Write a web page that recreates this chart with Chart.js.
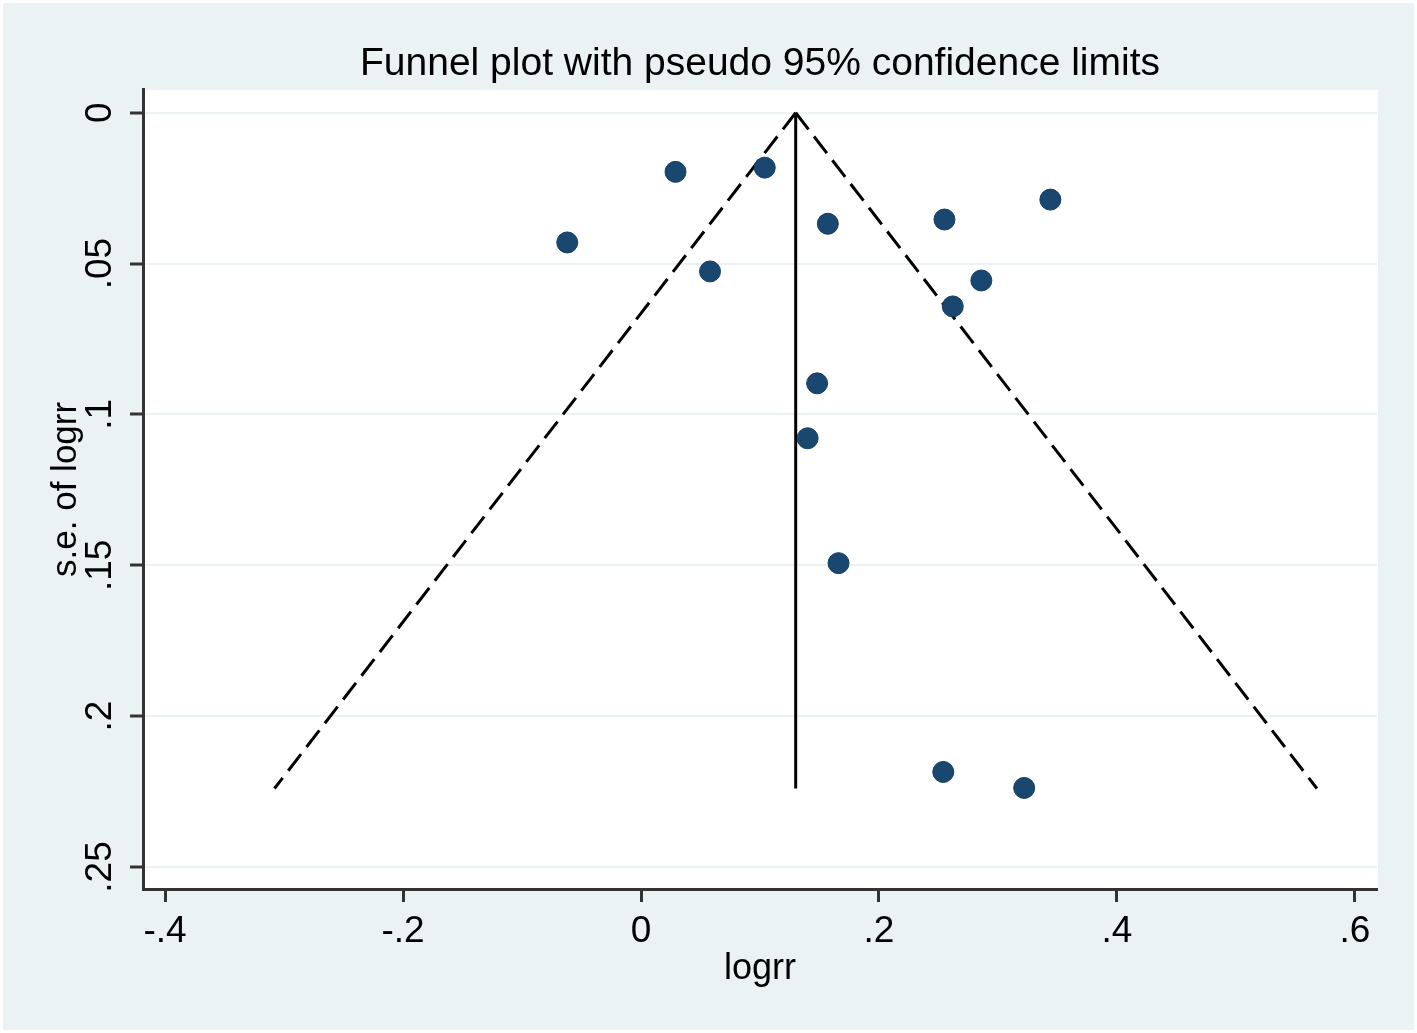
<!DOCTYPE html>
<html>
<head>
<meta charset="utf-8">
<script src="https://cdn.jsdelivr.net/npm/chart.js@4.4.1/dist/chart.umd.min.js"></script>
<style>
    html, body { margin: 0; padding: 0; background: #ffffff; }
    #wrap { width: 1417px; height: 1033px; }
</style>
</head>
<body>
<div id="wrap"><canvas id="funnelChart" width="1417" height="1033"></canvas></div>
<script>
// study estimates
const logrr = [-0.062, 0.029, 0.104, 0.157, 0.058, 0.255, 0.344, 0.286, 0.262, 0.148, 0.140, 0.166, 0.254, 0.322];
const seLogrr = [0.0430, 0.0196, 0.0182, 0.0368, 0.0526, 0.0354, 0.0288, 0.0556, 0.0642, 0.0897, 0.1079, 0.1493, 0.2185, 0.2238];

// pooled estimate line and pseudo 95% limits (end points)
const pooledLine = [{ x: 0.130, y: 0 }, { x: 0.130, y: 0.224 }];
const lowerLimit = [{ x: 0.130, y: 0 }, { x: -0.308, y: 0.224 }];
const upperLimit = [{ x: 0.130, y: 0 }, { x: 0.568, y: 0.224 }];

const xTicks = [-0.4, -0.2, 0, 0.2, 0.4, 0.6];
const yTicks = [0, 0.05, 0.1, 0.15, 0.2, 0.25];

const FONT = "'Liberation Sans', Arial, sans-serif";

function stataLabel(v) {
    // Stata style: -.4, .2, 0
    let s = String(Math.round(v * 1000) / 1000);
    return s.replace(/^0\./, ".").replace(/^-0\./, "-.");
}

const points = logrr.map((x, i) => ({ x: x, y: seLogrr[i] }));

/** background + white plot region */
const backdrop = {
    id: "backdrop",
    beforeDraw(chart) {
        const ctx = chart.ctx;
        const a = chart.chartArea;
        ctx.save();
        ctx.fillStyle = "#ffffff";
        ctx.fillRect(0, 0, chart.width, chart.height);
        ctx.fillStyle = "#eaf2f3";
        ctx.fillRect(3, 3, chart.width - 6, chart.height - 6);
        ctx.fillStyle = "#ffffff";
        ctx.fillRect(a.left, a.top, a.right - a.left + 1, a.bottom - a.top);
        ctx.restore();
    }
};

/** rotated y tick labels, like Stata */
const yLabels = {
    id: "yLabels",
    afterDraw(chart) {
        const ctx = chart.ctx;
        const y = chart.scales.y;
        ctx.save();
        ctx.fillStyle = "#000000";
        ctx.font = "37px " + FONT;
        ctx.textAlign = "center";
        ctx.textBaseline = "middle";
        yTicks.forEach(v => {
            const py = y.getPixelForValue(v);
            ctx.save();
            ctx.translate(101, py);
            ctx.rotate(-Math.PI / 2);
            ctx.fillText(stataLabel(v), 0, 0);
            ctx.restore();
        });
        ctx.restore();
    }
};

new Chart(document.getElementById("funnelChart").getContext("2d"), {
    type: "scatter",
    data: {
        datasets: [
            {
                label: "Studies",
                data: points,
                pointRadius: 10.5,
                pointHoverRadius: 10.5,
                pointBackgroundColor: "#1a476f",
                pointBorderColor: "#163e62",
                pointBorderWidth: 1,
                order: 0
            },
            {
                label: "Pooled",
                data: pooledLine,
                showLine: true,
                pointRadius: 0,
                borderColor: "#000000",
                borderWidth: 3,
                order: 1
            },
            {
                label: "Lower limit",
                data: lowerLimit,
                showLine: true,
                pointRadius: 0,
                borderColor: "#000000",
                borderWidth: 3,
                borderDash: [21, 9],
                order: 1
            },
            {
                label: "Upper limit",
                data: upperLimit,
                showLine: true,
                pointRadius: 0,
                borderColor: "#000000",
                borderWidth: 3,
                borderDash: [21, 9],
                order: 1
            }
        ]
    },
    options: {
        responsive: false,
        animation: false,
        devicePixelRatio: 1,
        layout: { padding: { left: 0, right: 40, top: 0, bottom: 0 } },
        plugins: {
            legend: { display: false },
            tooltip: { enabled: false },
            title: {
                display: true,
                text: "Funnel plot with pseudo 95% confidence limits",
                color: "#000000",
                fullSize: false,
                font: { family: FONT, size: 39, weight: "normal", lineHeight: 1.2 },
                padding: { top: 41, bottom: 2 }
            }
        },
        scales: {
            x: {
                type: "linear",
                min: -0.4185,
                max: 0.6185,
                afterBuildTicks(scale) { scale.ticks = xTicks.map(v => ({ value: v })); },
                afterFit(scale) { scale.height = 144; },
                grid: {
                    drawOnChartArea: false,
                    drawTicks: true,
                    tickLength: 13,
                    tickWidth: 3,
                    tickColor: "#333333"
                },
                border: { display: true, color: "#333333", width: 3 },
                ticks: {
                    color: "#000000",
                    font: { family: FONT, size: 37 },
                    padding: 8,
                    maxRotation: 0,
                    callback: v => stataLabel(v)
                },
                title: {
                    display: true,
                    text: "logrr",
                    color: "#000000",
                    font: { family: FONT, size: 36 },
                    padding: { top: 42, bottom: 42 }
                }
            },
            y: {
                type: "linear",
                reverse: true,
                min: -0.0076,
                max: 0.2573,
                afterBuildTicks(scale) { scale.ticks = yTicks.map(v => ({ value: v })); },
                afterFit(scale) { scale.width = 143; },
                grid: {
                    drawOnChartArea: true,
                    color: "#eaf2f3",
                    lineWidth: 2,
                    drawTicks: true,
                    tickLength: 13,
                    tickWidth: 3,
                    tickColor: "#333333"
                },
                border: { display: true, color: "#333333", width: 3 },
                ticks: { display: false },
                title: {
                    display: true,
                    text: "s.e. of logrr",
                    color: "#000000",
                    font: { family: FONT, size: 35 },
                    padding: { top: 45, bottom: 45 }
                }
            }
        }
    },
    plugins: [backdrop, yLabels]
});
</script>
</body>
</html>
